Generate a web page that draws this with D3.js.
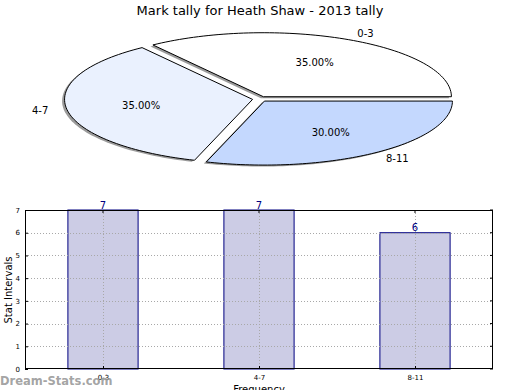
<!DOCTYPE html>
<html><head><meta charset="utf-8">
<script src="https://cdnjs.cloudflare.com/ajax/libs/d3/7.8.5/d3.min.js"></script>
<style>body{margin:0;background:#fff;}svg{display:block;font-family:"DejaVu Sans",sans-serif;}</style>
</head><body>
<svg id="c" width="520" height="390"></svg>
<script>
const categories = ["0-3", "4-7", "8-11"];
const values = [7, 7, 6];
const percentLabels = ["35.00%", "35.00%", "30.00%"];
const pieColors = ["#ffffff", "#eaf1fe", "#c4d8fe"];
const yTicks = [0, 1, 2, 3, 4, 5, 6, 7];
const title = "Mark tally for Heath Shaw - 2013 tally";

const svg = d3.select("#c");

// Title
svg.append("text").attr("x", 260).attr("y", 15).attr("text-anchor", "middle")
  .attr("font-size", 13).attr("fill", "#000").text(title);

// ---- Pie (matplotlib-style, squashed ellipse) ----
const cx = 260, cy = 99, rx = 188, ry = 64;
const px = d3.scaleLinear().domain([-1, 1]).range([cx - rx, cx + rx]);
const py = d3.scaleLinear().domain([-1, 1]).range([cy + ry, cy - ry]);
const explode = 0.04;
const total = d3.sum(values);
let start = 0;
const slices = values.map((v, i) => {
  const a0 = start, a1 = start + v / total * 360;
  start = a1;
  return {i, a0, a1, mid: (a0 + a1) / 2};
});
const line = d3.line().x(d => px(d[0])).y(d => py(d[1]));
function wedgePts(s) {
  const m = s.mid * Math.PI / 180;
  const ox = explode * Math.cos(m), oy = explode * Math.sin(m);
  const pts = [[ox, oy]];
  const n = 80;
  for (let k = 0; k <= n; k++) {
    const a = (s.a0 + (s.a1 - s.a0) * k / n) * Math.PI / 180;
    pts.push([ox + Math.cos(a), oy + Math.sin(a)]);
  }
  pts.push([ox, oy]);
  return pts;
}
const pieG = svg.append("g");
pieG.selectAll("path.shadow").data(slices).join("path")
  .attr("class", "shadow")
  .attr("d", s => line(wedgePts(s)) + "Z")
  .attr("transform", "translate(-2.5,1.5)")
  .attr("fill", "#7a7a7a").attr("fill-opacity", 0.75).attr("stroke", "none");
pieG.selectAll("path.wedge").data(slices).join("path")
  .attr("class", "wedge")
  .attr("d", s => line(wedgePts(s)) + "Z")
  .attr("fill", s => pieColors[s.i]).attr("stroke", "#000").attr("stroke-width", 1)
  .attr("stroke-linejoin", "miter");
slices.forEach(s => {
  const m = s.mid * Math.PI / 180;
  const ox = explode * Math.cos(m), oy = explode * Math.sin(m);
  const lx = 1.1 * Math.cos(m) + ox, ly = 1.1 * Math.sin(m) + oy;
  svg.append("text").attr("x", px(lx)).attr("y", py(ly)).attr("dy", "0.35em")
    .attr("text-anchor", Math.cos(m) >= 0 ? "start" : "end")
    .attr("font-size", 10).text(categories[s.i]);
  const tx = 0.6 * Math.cos(m) + ox, ty = 0.6 * Math.sin(m) + oy;
  svg.append("text").attr("x", px(tx)).attr("y", py(ty)).attr("dy", "0.35em")
    .attr("text-anchor", "middle").attr("font-size", 10).text(percentLabels[s.i]);
});

// ---- Bar chart ----
const L = 25, R = 493, T = 210, B = 369;
const x = d3.scaleLinear().domain([-0.5, categories.length - 0.5]).range([L, R]);
const y = d3.scaleLinear().domain([0, 7]).range([B, T]);
const barW = 0.45;
const g = svg.append("g");
g.selectAll("rect.bar").data(values).join("rect")
  .attr("class", "bar")
  .attr("x", (d, i) => x(i - barW / 2)).attr("width", x(barW) - x(0))
  .attr("y", d => y(d)).attr("height", d => y(0) - y(d))
  .attr("fill", "#ccccE5").attr("stroke", "#000080").attr("stroke-width", 1);
g.selectAll("line.hg").data(yTicks.slice(1, -1)).join("line")
  .attr("x1", L).attr("x2", R).attr("y1", d => Math.round(y(d)) + 0.5).attr("y2", d => Math.round(y(d)) + 0.5)
  .attr("stroke", "#a8a8a8").attr("stroke-dasharray", "1,2");
g.selectAll("line.vg").data(categories).join("line")
  .attr("y1", T).attr("y2", B).attr("x1", (d, i) => Math.round(x(i)) + 0.5).attr("x2", (d, i) => Math.round(x(i)) + 0.5)
  .attr("stroke", "#a8a8a8").attr("stroke-dasharray", "1,2");
g.append("rect").attr("x", L + 0.5).attr("y", T + 0.5).attr("width", R - L - 1).attr("height", B - T - 1)
  .attr("fill", "none").attr("stroke", "#000").attr("stroke-width", 1);
const yAxis = d3.axisLeft(y).tickValues(yTicks).tickSize(-3).tickPadding(5).tickFormat(d3.format("d"));
const ya = g.append("g").attr("transform", `translate(${L},0)`).call(yAxis);
ya.select(".domain").remove();
ya.selectAll("text").attr("font-size", 7).attr("font-family", "DejaVu Sans");
ya.selectAll("line").attr("stroke", "#000");
g.selectAll("line.rt").data(yTicks).join("line")
  .attr("x1", R - 3).attr("x2", R).attr("y1", d => y(d)).attr("y2", d => y(d)).attr("stroke", "#000");
const xAxis = d3.axisBottom(x).tickValues(d3.range(categories.length)).tickSize(-3).tickPadding(6)
  .tickFormat(i => categories[i]);
const xa = g.append("g").attr("transform", `translate(0,${B})`).call(xAxis);
xa.select(".domain").remove();
xa.selectAll("text").attr("font-size", 7).attr("font-family", "DejaVu Sans");
xa.selectAll("line").attr("stroke", "#000");
g.selectAll("line.tt").data(categories).join("line")
  .attr("y1", T).attr("y2", T + 3).attr("x1", (d, i) => x(i)).attr("x2", (d, i) => x(i)).attr("stroke", "#000");
g.selectAll("text.val").data(values).join("text")
  .attr("x", (d, i) => x(i)).attr("y", d => y(d) - 1.5)
  .attr("text-anchor", "middle").attr("font-size", 10).attr("fill", "#000080").text(d => d);
svg.append("text").attr("transform", "translate(12,290) rotate(-90)").attr("text-anchor", "middle")
  .attr("font-size", 10).text("Stat Intervals");
svg.append("text").attr("x", 259).attr("y", 393).attr("text-anchor", "middle")
  .attr("font-size", 10).text("Frequency");
svg.append("text").attr("x", 0).attr("y", 385).attr("font-size", 11.5).attr("font-weight", "bold")
  .attr("fill", "#999").attr("fill-opacity", 0.9).text("Dream-Stats.com");
</script>
</body></html>
